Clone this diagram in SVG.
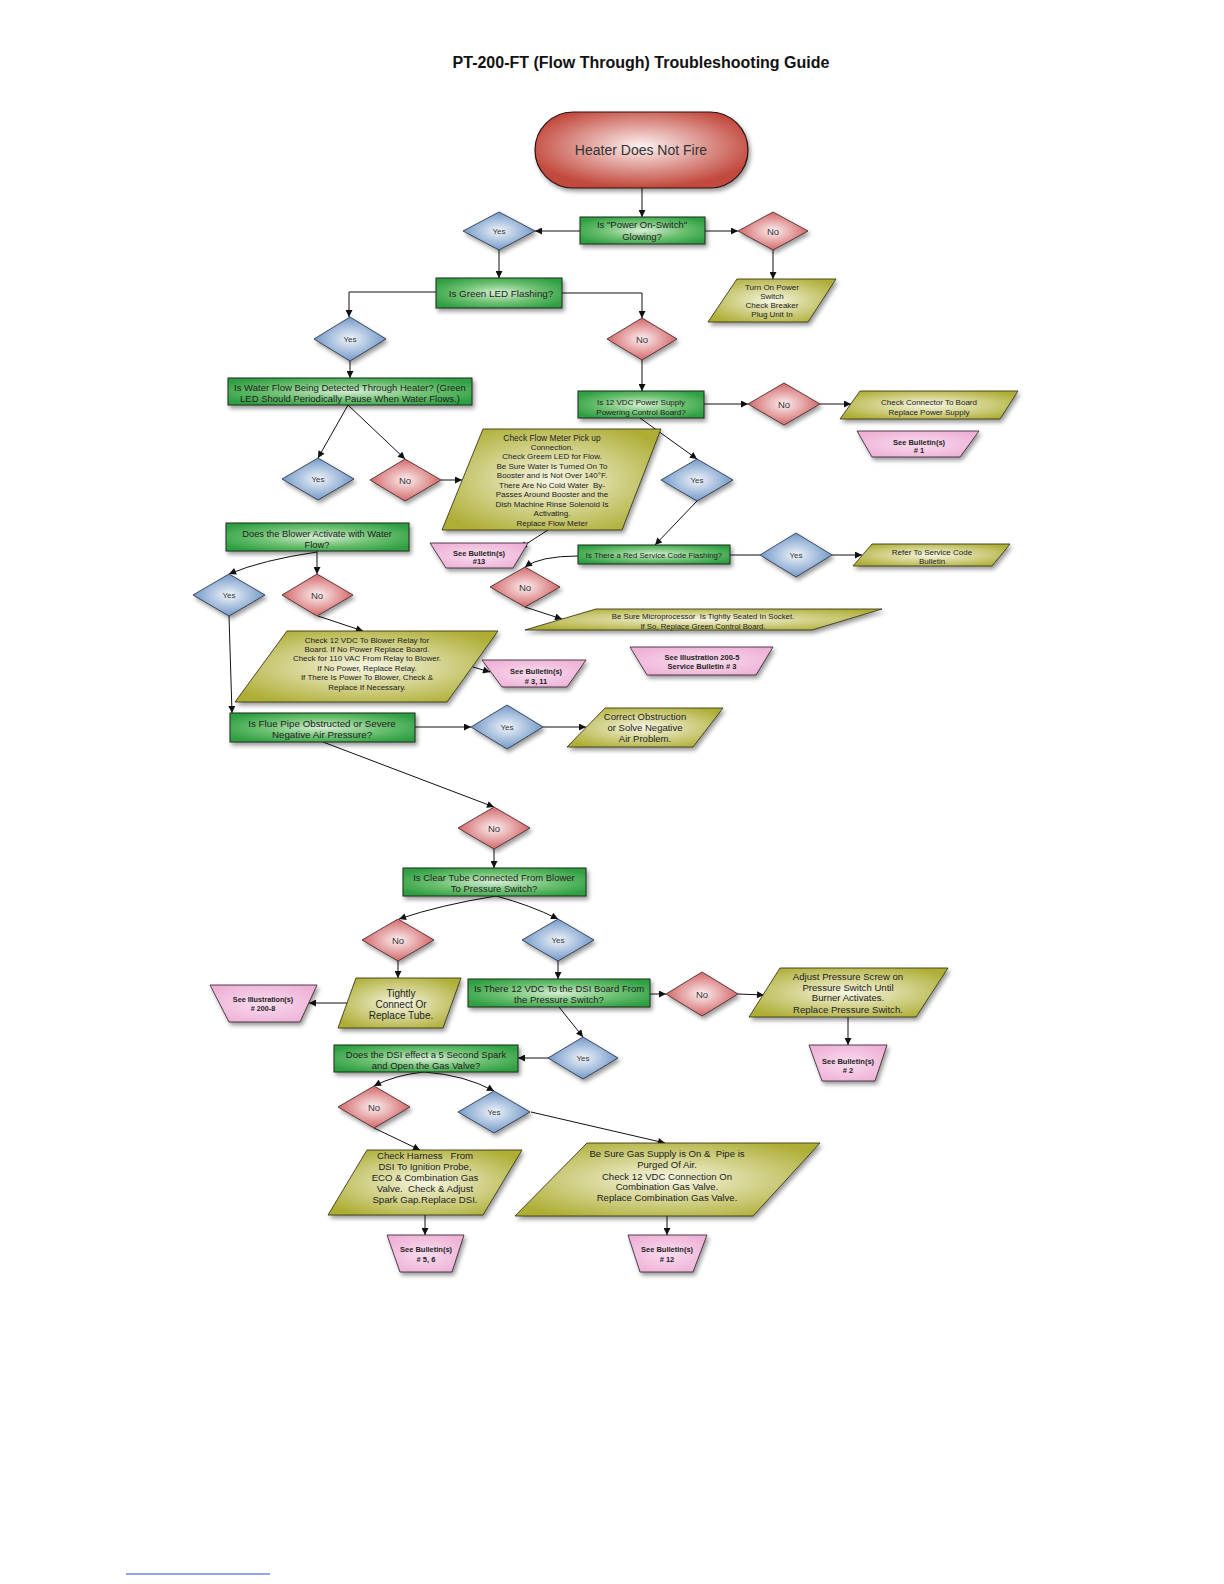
<svg xmlns="http://www.w3.org/2000/svg" width="1224" height="1584" viewBox="0 0 1224 1584">
<style>
text{font-family:"Liberation Sans",Arial,sans-serif;fill:#222;text-anchor:middle;white-space:pre}
.title{font-size:16px;font-weight:bold;fill:#111}
.gb{fill:url(#gGreen);stroke:#1d2a1d;stroke-width:1;filter:url(#sh)}
.dr{fill:url(#gRed);stroke:#3a2020;stroke-width:0.8;filter:url(#sh)}
.db{fill:url(#gBlue);stroke:#20283a;stroke-width:0.8;filter:url(#sh)}
.po{fill:url(#gOlive);stroke:#2a2a10;stroke-width:0.8;filter:url(#sh)}
.tp{fill:url(#gPink);stroke:#2a1a24;stroke-width:0.8;filter:url(#sh)}
.pill{fill:url(#gPill);stroke:#2a1010;stroke-width:1.2;filter:url(#sh)}
.c{fill:none;stroke:#111;stroke-width:1;marker-end:url(#ar)}
.cn{fill:none;stroke:#111;stroke-width:1}
.t95{font-size:9.5px}
.t8{font-size:8px}
.tb{font-size:7.5px;font-weight:bold}
.yes{font-size:8px;fill:#333}
.no{font-size:9.5px;fill:#333}
</style>
<defs>
<radialGradient id="gGreen" cx="0.5" cy="0.5" r="0.6"><stop offset="0" stop-color="#d6eed4"/><stop offset="0.55" stop-color="#6cc070"/><stop offset="1" stop-color="#2e9f42"/></radialGradient>
<radialGradient id="gRed" cx="0.5" cy="0.5" r="0.55"><stop offset="0" stop-color="#fcf0f0"/><stop offset="1" stop-color="#d05a5c"/></radialGradient>
<radialGradient id="gBlue" cx="0.5" cy="0.5" r="0.55"><stop offset="0" stop-color="#f0f4fa"/><stop offset="1" stop-color="#6690c4"/></radialGradient>
<radialGradient id="gOlive" cx="0.5" cy="0.5" r="0.6"><stop offset="0" stop-color="#f7f6e2"/><stop offset="1" stop-color="#aeae36"/></radialGradient>
<radialGradient id="gPink" cx="0.5" cy="0.5" r="0.6"><stop offset="0" stop-color="#f9dcee"/><stop offset="1" stop-color="#eeb0d6"/></radialGradient>
<radialGradient id="gPill" cx="0.5" cy="0.45" r="0.55"><stop offset="0" stop-color="#fdf2f2"/><stop offset="1" stop-color="#c2483c"/></radialGradient>
<filter id="sh" x="-20%" y="-30%" width="150%" height="170%"><feDropShadow dx="2" dy="3" stdDeviation="2" flood-color="#000" flood-opacity="0.4"/></filter>
<marker id="ar" viewBox="0 0 10 10" refX="10" refY="5" markerWidth="8" markerHeight="7" orient="auto" markerUnits="userSpaceOnUse"><path d="M0,0 L10,5 L0,10 z" fill="#111"/></marker>
</defs>
<rect width="1224" height="1584" fill="#fff"/>
<text class="title" x="641" y="68">PT-200-FT (Flow Through) Troubleshooting Guide</text>

<g id="connectors">
<path class="c" d="M642,188 L642,217"/>
<path class="c" d="M580,231 L535,231"/>
<path class="c" d="M705,231 L738,231"/>
<path class="c" d="M773,250 L773,279"/>
<path class="c" d="M499,250 L499,278"/>
<path class="c" d="M436,292 L349,292 L349,317"/>
<path class="c" d="M562,293 L642,293 L642,318"/>
<path class="c" d="M350,361 L350,378"/>
<path class="c" d="M642,360 L642,391"/>
<path class="c" d="M704,404 L748,404"/>
<path class="c" d="M820,404 L851,404"/>
<path class="c" d="M640,418 L697,459"/>
<path class="c" d="M348,405 L318,458"/>
<path class="c" d="M348,405 L405,459"/>
<path class="c" d="M441,480 L462,480"/>
<path class="c" d="M548,530 L520,548"/>
<path class="c" d="M697,501 L655,545"/>
<path class="cn" d="M730,555 L760,555"/>
<path class="c" d="M832,555 L862,555"/>
<path class="c" d="M578,556 Q540,556 525,567"/>
<path class="c" d="M525,607 L562,619"/>
<path class="c" d="M317,551 L317,574"/>
<path class="c" d="M317,552 Q262,560 229,574"/>
<path class="c" d="M229,616 L232,713"/>
<path class="c" d="M318,616 L363,631"/>
<path class="c" d="M473,667 L490,672"/>
<path class="c" d="M415,727 L471,727"/>
<path class="c" d="M543,727 L586,727"/>
<path class="c" d="M323,742 L494,807"/>
<path class="c" d="M494,849 L494,868"/>
<path class="c" d="M496,896 Q440,905 399,919"/>
<path class="c" d="M496,896 Q530,905 558,919"/>
<path class="c" d="M398,961 L398,978"/>
<path class="c" d="M348,1003 L309,1003"/>
<path class="c" d="M558,961 L558,979"/>
<path class="c" d="M650,994 L666,994"/>
<path class="c" d="M738,994 L764,995"/>
<path class="c" d="M848,1017 L848,1045"/>
<path class="c" d="M559,1007 L583,1037"/>
<path class="c" d="M549,1058 L518,1058"/>
<path class="c" d="M424,1072 Q395,1075 374,1086"/>
<path class="c" d="M424,1072 Q465,1075 494,1091"/>
<path class="c" d="M374,1128 L420,1150"/>
<path class="c" d="M531,1112 L665,1143"/>
<path class="c" d="M425,1215 L425,1235"/>
<path class="c" d="M667,1216 L667,1235"/>
</g>

<g id="start">
<rect class="pill" x="535" y="112" width="213" height="76" rx="38"/>
<text x="641" y="155" style="font-size:14px;fill:#333">Heater Does Not Fire</text>
</g>

<g id="q_power">
<rect class="gb" x="580" y="217" width="125" height="27"/>
<text class="t95" x="642" y="228">Is "Power On-Switch"</text>
<text class="t95" x="642" y="240">Glowing?</text>
</g>
<g id="d_yes1"><polygon class="db" points="463,231 499,212 535,231 499,250"/><text class="yes" x="499" y="234">Yes</text></g>
<g id="d_no1"><polygon class="dr" points="738,231 773,212 808,231 773,250"/><text class="no" x="773" y="234.5">No</text></g>
<g id="p_turnon">
<polygon class="po" points="737,279 836,279 808,322 708,322"/>
<text class="t8" x="772" y="289.8">Turn On Power</text>
<text class="t8" x="772" y="298.8">Switch</text>
<text class="t8" x="772" y="307.8">Check Breaker</text>
<text class="t8" x="772" y="316.8">Plug Unit In</text>
</g>

<g id="q_led">
<rect class="gb" x="436" y="278" width="126" height="30"/>
<text class="t95" x="501" y="296.5" style="font-size:9.8px">Is Green LED Flashing?</text>
</g>
<g id="d_yes2"><polygon class="db" points="314,339 350,317 386,339 350,361"/><text class="yes" x="350" y="342">Yes</text></g>
<g id="d_no2"><polygon class="dr" points="607,339 642,318 677,339 642,360"/><text class="no" x="642" y="342.5">No</text></g>

<g id="q_water">
<rect class="gb" x="228" y="378" width="244" height="27"/>
<text class="t95" x="350" y="390.5">Is Water Flow Being Detected Through Heater? (Green</text>
<text class="t95" x="350" y="402">LED Should Periodically Pause When Water Flows.)</text>
</g>

<g id="q_12vdc">
<rect class="gb" x="578" y="391" width="126" height="27"/>
<text class="t8" x="641" y="405">Is 12 VDC Power Supply</text>
<text class="t8" x="641" y="415">Powering Control Board?</text>
</g>
<g id="d_no3"><polygon class="dr" points="748,404 784,383 820,404 784,425"/><text class="no" x="784" y="407.5">No</text></g>
<g id="p_connector">
<polygon class="po" points="860,391 1018,391 1000,419 840,419"/>
<text class="t8" x="929" y="404.8">Check Connector To Board</text>
<text class="t8" x="929" y="414.8">Replace Power Supply</text>
</g>
<g id="t_b1">
<polygon class="tp" points="857,431 979,431 960,457 872,457"/>
<text class="tb" x="919" y="444.6">See Bulletin(s)</text>
<text class="tb" x="919" y="452.6"># 1</text>
</g>

<g id="d_yes3"><polygon class="db" points="282,479 318,458 354,479 318,500"/><text class="yes" x="318" y="482">Yes</text></g>
<g id="d_no4"><polygon class="dr" points="370,480 405,459 441,480 405,501"/><text class="no" x="405" y="483.5">No</text></g>
<g id="p_flowmeter">
<polygon class="po" points="483,429 661,429 622,530 442,530"/>
<text class="t8" x="552" y="440.5" style="font-size:8.4px">Check Flow Meter Pick up</text>
<text class="t8" x="552" y="449.8">Connection.</text>
<text class="t8" x="552" y="459.3">Check Greem LED for Flow.</text>
<text class="t8" x="552" y="468.8">Be Sure Water Is Turned On To</text>
<text class="t8" x="552" y="478.3">Booster and is Not Over 140°F.</text>
<text class="t8" x="552" y="487.8">There Are No Cold Water  By-</text>
<text class="t8" x="552" y="497.3">Passes Around Booster and the</text>
<text class="t8" x="552" y="506.8">Dish Machine Rinse Solenoid Is</text>
<text class="t8" x="552" y="516.3">Activating.</text>
<text class="t8" x="552" y="525.8">Replace Flow Meter</text>
</g>
<g id="t_b13">
<polygon class="tp" points="430,543 528,543 513,568 446,568"/>
<text class="tb" x="479" y="555.6">See Bulletin(s)</text>
<text class="tb" x="479" y="563.6">#13</text>
</g>
<g id="d_yes4"><polygon class="db" points="661,480 697,459 733,480 697,501"/><text class="yes" x="697" y="483">Yes</text></g>

<g id="q_red">
<rect class="gb" x="578" y="545" width="152" height="19"/>
<text x="654" y="558" style="font-size:7.8px">Is There a Red Service Code Flashing?</text>
</g>
<g id="d_yes5"><polygon class="db" points="760,555 796,533 832,555 796,577"/><text class="yes" x="796" y="558">Yes</text></g>
<g id="p_refer">
<polygon class="po" points="872,544 1010,544 992,566 853,566"/>
<text class="t8" x="932" y="554.8">Refer To Service Code</text>
<text class="t8" x="932" y="563.8">Bulletin</text>
</g>
<g id="d_no5"><polygon class="dr" points="490,587 525,567 560,587 525,607"/><text class="no" x="525" y="590.5">No</text></g>
<g id="p_micro">
<polygon class="po" points="596,609 882,609 812,630 525,630"/>
<text x="703" y="618.6" style="font-size:7.8px">Be Sure Microprocessor  Is Tightly Seated In Socket.</text>
<text x="703" y="628.6" style="font-size:7.8px">If So, Replace Green Control Board.</text>
</g>
<g id="t_illus5">
<polygon class="tp" points="630,647 773,647 756,675 647,675"/>
<text class="tb" x="702" y="659.6">See Illustration 200-5</text>
<text class="tb" x="702" y="668.6">Service Bulletin # 3</text>
</g>

<g id="q_blower">
<rect class="gb" x="226" y="523" width="183" height="28"/>
<text x="317" y="536.5" style="font-size:9.3px">Does the Blower Activate with Water</text>
<text x="317" y="547.5" style="font-size:9.3px">Flow?</text>
</g>
<g id="d_yes6"><polygon class="db" points="193,595 229,574 265,595 229,616"/><text class="yes" x="229" y="598">Yes</text></g>
<g id="d_no6"><polygon class="dr" points="282,595 317,574 353,595 317,616"/><text class="no" x="317" y="598.5">No</text></g>
<g id="p_blower">
<polygon class="po" points="287,631 498,631 447,702 235,702"/>
<text class="t8" x="367" y="642.8">Check 12 VDC To Blower Relay for</text>
<text class="t8" x="367" y="651.8">Board. If No Power Replace Board.</text>
<text class="t8" x="367" y="660.8">Check for 110 VAC From Relay to Blower.</text>
<text class="t8" x="367" y="670.8">If No Power, Replace Relay.</text>
<text class="t8" x="367" y="679.8">If There Is Power To Blower, Check &amp;</text>
<text class="t8" x="367" y="689.8">Replace If Necessary.</text>
</g>
<g id="t_b311">
<polygon class="tp" points="482,660 586,660 567,687 502,687"/>
<text class="tb" x="536" y="673.6">See Bulletin(s)</text>
<text class="tb" x="536" y="683.6"># 3, 11</text>
</g>

<g id="q_flue">
<rect class="gb" x="230" y="713" width="185" height="29"/>
<text x="322" y="726.5" style="font-size:9.8px">Is Flue Pipe Obstructed or Severe</text>
<text x="322" y="737.5" style="font-size:9.8px">Negative Air Pressure?</text>
</g>
<g id="d_yes7"><polygon class="db" points="471,727 507,705 543,727 507,749"/><text class="yes" x="507" y="730">Yes</text></g>
<g id="p_correct">
<polygon class="po" points="605,708 723,708 693,747 567,747"/>
<text class="t95" x="645" y="720.3">Correct Obstruction</text>
<text class="t95" x="645" y="731.3">or Solve Negative</text>
<text class="t95" x="645" y="742.3">Air Problem.</text>
</g>
<g id="d_no7"><polygon class="dr" points="458,828 494,807 530,828 494,849"/><text class="no" x="494" y="831.5">No</text></g>

<g id="q_clear">
<rect class="gb" x="403" y="868" width="183" height="28"/>
<text class="t95" x="494" y="880.5">Is Clear Tube Connected From Blower</text>
<text class="t95" x="494" y="891.5">To Pressure Switch?</text>
</g>
<g id="d_no8"><polygon class="dr" points="362,940 398,919 434,940 398,961"/><text class="no" x="398" y="943.5">No</text></g>
<g id="d_yes8"><polygon class="db" points="522,940 558,919 594,940 558,961"/><text class="yes" x="558" y="943">Yes</text></g>
<g id="p_tightly">
<polygon class="po" points="356,978 461,978 443,1028 338,1028"/>
<text x="401" y="996.5" style="font-size:10px">Tightly</text>
<text x="401" y="1007.5" style="font-size:10px">Connect Or</text>
<text x="401" y="1018.5" style="font-size:10px">Replace Tube.</text>
</g>
<g id="t_illus8">
<polygon class="tp" points="210,985 317,985 300,1022 229,1022"/>
<text class="tb" x="263" y="1001.6" style="font-size:7.2px">See Illustration(s)</text>
<text class="tb" x="263" y="1010.6" style="font-size:7.2px"># 200-8</text>
</g>

<g id="q_dsi">
<rect class="gb" x="468" y="979" width="182" height="28"/>
<text class="t95" x="559" y="991.5">Is There 12 VDC To the DSI Board From</text>
<text class="t95" x="559" y="1002.5">the Pressure Switch?</text>
</g>
<g id="d_no9"><polygon class="dr" points="666,994 702,972 738,994 702,1016"/><text class="no" x="702" y="997.5">No</text></g>
<g id="p_adjust">
<polygon class="po" points="780,968 948,968 916,1017 749,1017"/>
<text x="848" y="980.4" style="font-size:9.6px">Adjust Pressure Screw on</text>
<text x="848" y="991.4" style="font-size:9.6px">Pressure Switch Until</text>
<text x="848" y="1001.4" style="font-size:9.6px">Burner Activates.</text>
<text x="848" y="1013.4" style="font-size:9.6px">Replace Pressure Switch.</text>
</g>
<g id="t_b2">
<polygon class="tp" points="809,1045 887,1045 875,1081 822,1081"/>
<text class="tb" x="848" y="1063.6">See Bulletin(s)</text>
<text class="tb" x="848" y="1072.6"># 2</text>
</g>
<g id="d_yes9"><polygon class="db" points="548,1058 583,1037 618,1058 583,1079"/><text class="yes" x="583" y="1061">Yes</text></g>

<g id="q_spark">
<rect class="gb" x="334" y="1045" width="184" height="27"/>
<text class="t95" x="426" y="1057.5">Does the DSI effect a 5 Second Spark</text>
<text class="t95" x="426" y="1068.5">and Open the Gas Valve?</text>
</g>
<g id="d_no10"><polygon class="dr" points="338,1107 374,1086 410,1107 374,1128"/><text class="no" x="374" y="1110.5">No</text></g>
<g id="d_yes10"><polygon class="db" points="458,1112 494,1091 530,1112 494,1133"/><text class="yes" x="494" y="1115">Yes</text></g>
<g id="p_harness">
<polygon class="po" points="367,1150 522,1150 483,1215 328,1215"/>
<text x="425" y="1159.4" style="font-size:9.6px">Check Harness   From</text>
<text x="425" y="1170.4" style="font-size:9.6px">DSI To Ignition Probe,</text>
<text x="425" y="1181.4" style="font-size:9.6px">ECO &amp; Combination Gas</text>
<text x="425" y="1192.4" style="font-size:9.6px">Valve.  Check &amp; Adjust</text>
<text x="425" y="1203.4" style="font-size:9.6px">Spark Gap.Replace DSI.</text>
</g>
<g id="p_gas">
<polygon class="po" points="587,1143 820,1143 753,1216 515,1216"/>
<text x="667" y="1157.4" style="font-size:9.6px">Be Sure Gas Supply is On &amp;  Pipe is</text>
<text x="667" y="1168.4" style="font-size:9.6px">Purged Of Air.</text>
<text x="667" y="1180.4" style="font-size:9.6px">Check 12 VDC Connection On</text>
<text x="667" y="1190.4" style="font-size:9.6px">Combination Gas Valve.</text>
<text x="667" y="1201.4" style="font-size:9.6px">Replace Combination Gas Valve.</text>
</g>
<g id="t_b56">
<polygon class="tp" points="387,1235 464,1235 452,1272 400,1272"/>
<text class="tb" x="426" y="1251.6">See Bulletin(s)</text>
<text class="tb" x="426" y="1261.6"># 5, 6</text>
</g>
<g id="t_b12">
<polygon class="tp" points="628,1235 707,1235 693,1272 640,1272"/>
<text class="tb" x="667" y="1251.6">See Bulletin(s)</text>
<text class="tb" x="667" y="1261.6"># 12</text>
</g>

<line x1="126" y1="1574" x2="270" y2="1574" stroke="#2b4bd1" stroke-width="1"/>
</svg>
